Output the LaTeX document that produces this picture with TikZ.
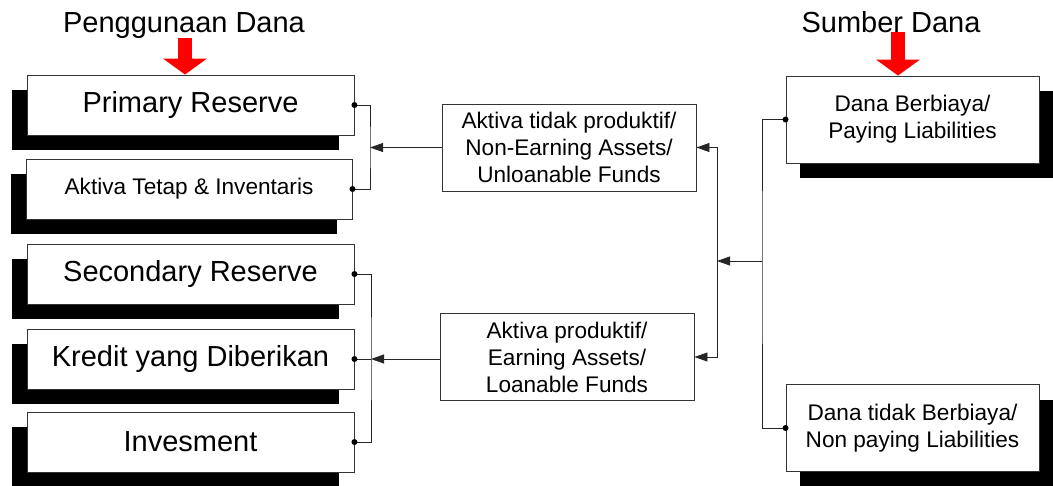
\documentclass[tikz,border=0pt]{standalone}
\usepackage{fontspec}
\setmainfont{Liberation Sans}
\usetikzlibrary{arrows.meta,positioning,shadows}
\newcommand\bigtxt{\fontsize{29}{33}\selectfont}
\newcommand\smalltxt{\fontsize{22.6}{27}\selectfont}
\tikzset{
  box/.style={draw=black!80,line width=0.9pt,fill=white,inner sep=0pt,align=center},
  leftbox/.style={box,minimum width=327pt,minimum height=60pt,font=\bigtxt,
    general shadow={fill=black,shadow xshift=-15pt,shadow yshift=-15pt}},
  midbox/.style={box,minimum width=254pt,minimum height=87pt,font=\smalltxt},
  rightbox/.style={box,minimum width=253pt,minimum height=87pt,font=\smalltxt,
    general shadow={fill=black,shadow xshift=14pt,shadow yshift=-15pt}},
  link/.style={black!85,line width=0.8pt},
  arr/.style={link,-{Triangle[length=13pt,width=9pt]}},
  redarrow/.style={red,line width=14pt,-{Triangle[length=16pt,width=44pt,line width=0pt]}}
}

\begin{document}
\begin{tikzpicture}[x=1pt,y=-1pt]
\useasboundingbox (0,0) rectangle (1053,485);
% titles
\node[font=\bigtxt,inner sep=0pt,anchor=base] (pg) at (184,32) {Penggunaan Dana};
\node[font=\bigtxt,inner sep=0pt,anchor=base] (sd) at (891,32) {Sumber Dana};
% left column
\node[leftbox] (pr) at (190.5,105) {Primary Reserve};
\node[leftbox,minimum width=326pt,font=\smalltxt] (at) at (189,189) {Aktiva Tetap \& Inventaris};
\node[leftbox] (sr) at (190.5,274) {Secondary Reserve};
\node[leftbox] (kr) at (190.5,359) {Kredit yang Diberikan};
\node[leftbox] (inv) at (190.5,442) {Invesment};
% middle column
\node[midbox] (na) at (569,147.5) {Aktiva tidak produktif/\\Non-Earning Assets/\\Unloanable Funds};
\node[midbox] (ea) at (567,357) {Aktiva produktif/\\Earning Assets/\\Loanable Funds};
% right column
\node[rightbox] (pl) at (912.5,119.5) {Dana Berbiaya/\\Paying Liabilities};
\node[rightbox] (npl) at (912.5,428) {Dana tidak Berbiaya/\\Non paying Liabilities};
% red arrows
\draw[redarrow] ([xshift=1pt]pg.south) -- ([xshift=1pt]pg.south |- pr.north);
\draw[redarrow] ([xshift=7pt]sd.south) -- ([xshift=7pt]sd.south |- pl.north);
% spines
\coordinate (ls1) at (370,147.5);
\coordinate (ls2) at (371,359);
\coordinate (ms) at (717,261);
\coordinate (rs) at (762,261);
% connectors
\draw[link] (pr.east) -| (ls1) |- (at.east);
\draw[arr] (na.west) -- (ls1);
\draw[link] (sr.east) -| (ls2) |- (inv.east);
\draw[link] (kr.east) -- (ls2);
\draw[arr] (ea.west |- ls2) -- (ls2);
\draw[arr] (ms) |- (na.east);
\draw[arr] (ms) |- (ea.east);
\draw[link] (pl.west) -| (rs) |- (npl.west);
\draw[arr] (rs) -- (ms);
\foreach \n in {pr,at,sr,kr,inv}{\fill (\n.east) circle (3pt);}
\foreach \n in {pl,npl}{\fill (\n.west) circle (3pt);}
\end{tikzpicture}
\end{document}
